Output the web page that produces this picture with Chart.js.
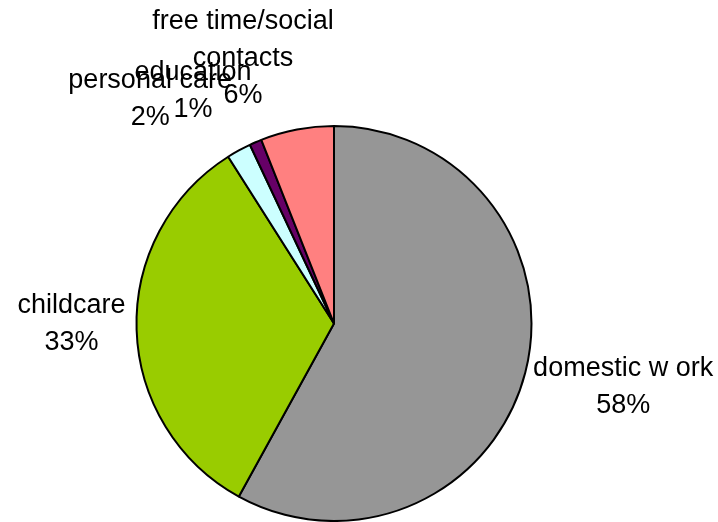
<!DOCTYPE html>
<html>
<head>
<meta charset="utf-8">
<script src="https://cdn.jsdelivr.net/npm/chart.js@4"></script>
<style>
  html, body { margin: 0; padding: 0; background: #ffffff; }
  #wrap { width: 718px; height: 522px; }
</style>
</head>
<body>
<div id="wrap"><canvas id="timeUseChart" width="718" height="522"></canvas></div>
<script>
// Time use breakdown (share of total, %)
const categories = ['domestic w ork', 'childcare', 'personal care', 'education', 'free time/social contacts'];
const categoryLines = [['domestic w ork'], ['childcare'], ['personal care'], ['education'], ['free time/social', 'contacts']];
const shares = [58, 33, 2, 1, 6];
const sliceColors = ['#969696', '#99cc00', '#ccffff', '#660066', '#ff8080'];

// nudges for the outside labels, roughly how Excel spreads them
const labelNudge = [[0, 2], [0, -7], [-44, -9], [-35, -7], [-35, -6]];

const LABEL_FONT = '27px "Liberation Sans", Arial, sans-serif';
const LINE_H = 37;

const outsideLabels = {
    id: 'outsideLabels',
    afterDatasetsDraw(chart) {
        const ctx = chart.ctx;
        const arcs = chart.getDatasetMeta(0).data;
        ctx.save();
        ctx.font = LABEL_FONT;
        ctx.fillStyle = '#000000';
        ctx.textAlign = 'center';
        ctx.textBaseline = 'middle';
        arcs.forEach((arc, i) => {
            const p = arc.getProps(['x', 'y', 'startAngle', 'endAngle', 'outerRadius'], true);
            const mid = (p.startAngle + p.endAngle) / 2;
            const dx = Math.cos(mid), dy = Math.sin(mid);
            const r = p.outerRadius + 11;
            const lines = categoryLines[i].concat([shares[i] + '%']);
            const w = Math.max(...lines.map(l => ctx.measureText(l).width));
            const h = lines.length * LINE_H;
            const cx = p.x + dx * r + dx * w / 2 + labelNudge[i][0];
            const cy = p.y + dy * r + dy * h / 2 + labelNudge[i][1];
            lines.forEach((line, k) => {
                ctx.fillText(line, cx, cy - h / 2 + LINE_H * (k + 0.5));
            });
        });
        ctx.restore();
    }
};

new Chart(document.getElementById('timeUseChart'), {
    type: 'pie',
    data: {
        labels: categories,
        datasets: [{
            data: shares,
            backgroundColor: sliceColors,
            borderColor: '#000000',
            borderWidth: 2
        }]
    },
    options: {
        responsive: false,
        animation: false,
        layout: {
            padding: { left: 134, right: 184, top: 125, bottom: 0 }
        },
        plugins: {
            legend: { display: false },
            tooltip: { enabled: false }
        }
    },
    plugins: [outsideLabels]
});
</script>
</body>
</html>
